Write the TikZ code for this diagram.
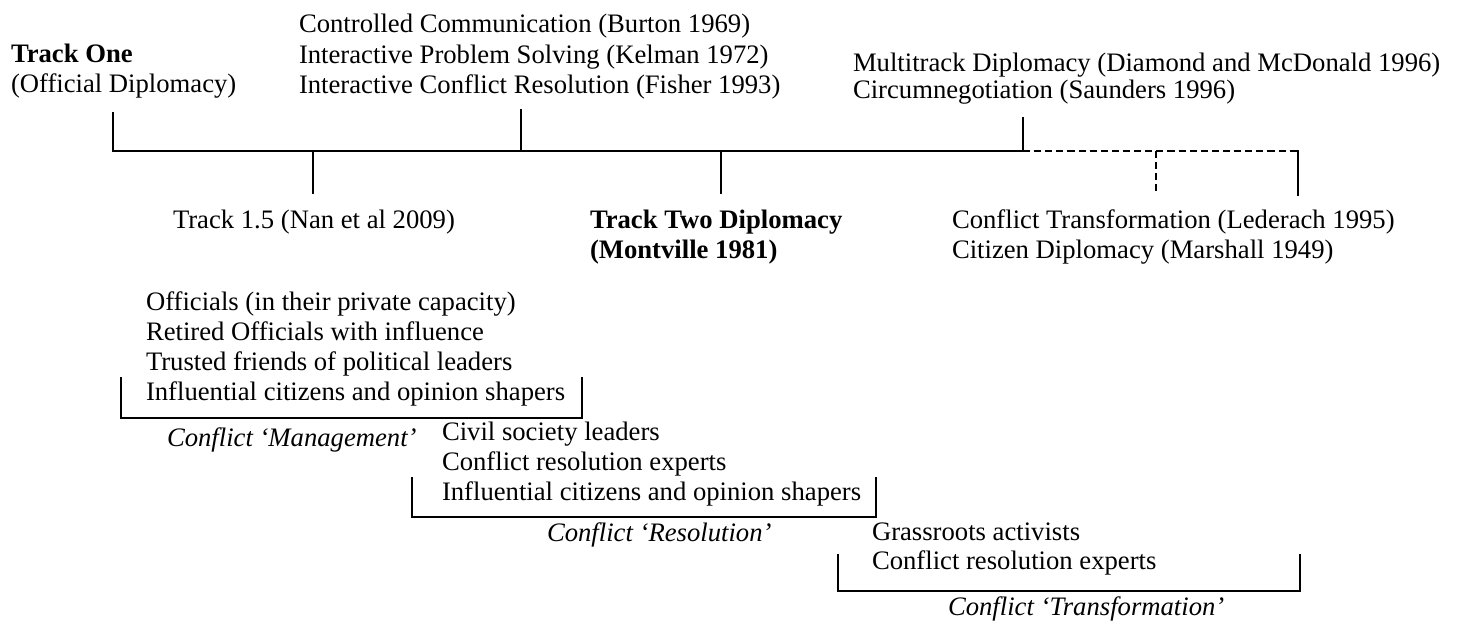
\documentclass[tikz,border=0pt]{standalone}
\usepackage{fontspec}
\setmainfont{Liberation Serif}
\begin{document}
\begin{tikzpicture}[x=0.45pt,y=-0.45pt,
  lbl/.style={anchor=base west,inner sep=0pt,outer sep=0pt,font=\fontsize{12}{14}\selectfont},
  blbl/.style={lbl,font=\fontsize{12}{14}\selectfont\bfseries},
  ilbl/.style={lbl,font=\fontsize{12}{14}\selectfont\itshape},
  ln/.style={line width=0.6pt,line cap=rect},
  dln/.style={line width=0.6pt,dash pattern=on 3.2pt off 1.8pt}]
\fill[white] (0,0) rectangle (1458,626);
\useasboundingbox (0,0) rectangle (1458,626);
% top labels
\node[blbl] (t1) at (11,62) {Track One};
\node[lbl] (t1b) at (11,92) {(Official Diplomacy)};
\node[lbl] (cc) at (299,32) {Controlled Communication (Burton 1969)};
\node[lbl] (ips) at (299,63) {Interactive Problem Solving (Kelman 1972)};
\node[lbl] (icr) at (299,93) {Interactive Conflict Resolution (Fisher 1993)};
\node[lbl] (mt) at (853,71) {Multitrack Diplomacy (Diamond and McDonald 1996)};
\node[lbl] (cn) at (853,98) {Circumnegotiation (Saunders 1996)};
% middle labels
\node[lbl] (t15) at (173,228) {Track 1.5 (Nan et al 2009)};
\node[blbl] (t2) at (590,228) {Track Two Diplomacy};
\node[blbl] (t2b) at (590,258) {(Montville 1981)};
\node[lbl] (ct) at (952,228) {Conflict Transformation (Lederach 1995)};
\node[lbl] (cd) at (952,258) {Citizen Diplomacy (Marshall 1949)};
% officials block
\node[lbl] (o1) at (146,310) {Officials (in their private capacity)};
\node[lbl] (o2) at (146,340) {Retired Officials with influence};
\node[lbl] (o3) at (146,370) {Trusted friends of political leaders};
\node[lbl] (o4) at (146,400) {Influential citizens and opinion shapers};
\node[ilbl] (cm) at (167,446) {Conflict ‘Management’};
% civil block
\node[lbl] (s1) at (442,440) {Civil society leaders};
\node[lbl] (s2) at (442,470) {Conflict resolution experts};
\node[lbl] (s3) at (442,500) {Influential citizens and opinion shapers};
\node[ilbl] (cr) at (547,541) {Conflict ‘Resolution’};
% grassroots block
\node[lbl] (g1) at (872,540) {Grassroots activists};
\node[lbl] (g2) at (872,569) {Conflict resolution experts};
\node[ilbl] (ctr) at (948,615) {Conflict ‘Transformation’};
% timeline coordinates
\coordinate (a0) at (113,113); \coordinate (a1) at (113,151);
\coordinate (b0) at (313,151); \coordinate (b1) at (313,193);
\coordinate (c0) at (521,110); \coordinate (c1) at (521,151);
\coordinate (d0) at (721,151); \coordinate (d1) at (721,193);
\coordinate (e0) at (1023,118); \coordinate (e1) at (1023,151);
\coordinate (f0) at (1156,151); \coordinate (f1) at (1156,193);
\coordinate (g0) at (1298,151); \coordinate (gb) at (1298,195);
\draw[ln] (a0) -- (a1) -- (e1) -- (e0);
\draw[ln] (b0) -- (b1);
\draw[ln] (c0) -- (c1);
\draw[ln] (d0) -- (d1);
\draw[dln] (e1) -- (g0);
\draw[dln] (f0) -- (f1);
\draw[ln] (g0) -- (gb);
% brackets
\coordinate (m0) at (121,378); \coordinate (m1) at (121,418);
\coordinate (m2) at (582,418); \coordinate (m3) at (582,378);
\draw[ln] (m0) -- (m1) -- (m2) -- (m3);
\coordinate (r0) at (412,478); \coordinate (r1) at (412,517);
\coordinate (r2) at (876,517); \coordinate (r3) at (876,478);
\draw[ln] (r0) -- (r1) -- (r2) -- (r3);
\coordinate (x0) at (838,555); \coordinate (x1) at (838,591);
\coordinate (x2) at (1300,591); \coordinate (x3) at (1300,555);
\draw[ln] (x0) -- (x1) -- (x2) -- (x3);
\end{tikzpicture}
\end{document}
